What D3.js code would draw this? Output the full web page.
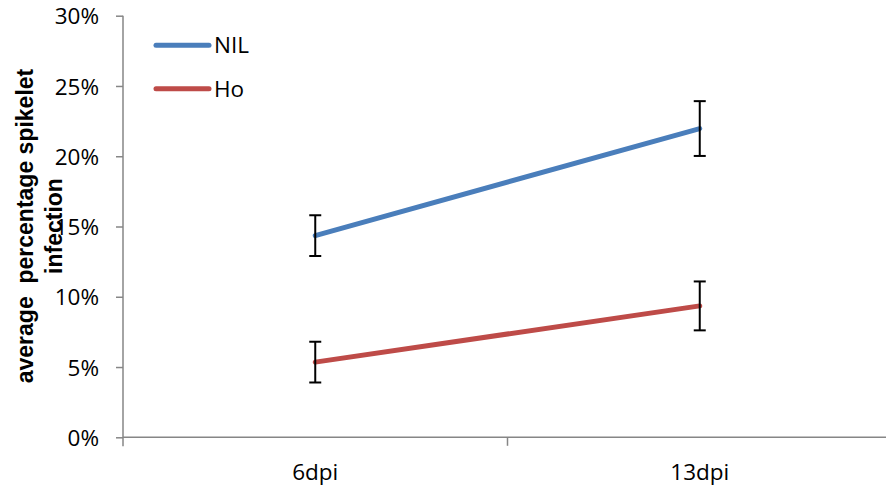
<!DOCTYPE html>
<html>
<head>
<meta charset="utf-8">
<script src="https://cdn.jsdelivr.net/npm/d3@7"></script>
<style>
  html, body { margin: 0; padding: 0; background: #fff; }
  svg { display: block; }
  .tick text { font-family: "Open Sans", sans-serif; font-size: 22.5px; fill: #000; }
</style>
</head>
<body>
<svg id="chart" width="886" height="489"></svg>
<script>
// Infection time points
const categories = ["6dpi", "13dpi"];

// Mean spikelet infection (fraction) and standard error per line
const nilValues = [0.1435, 0.2197];
const nilErrors = [0.0145, 0.0195];
const hoValues = [0.0535, 0.0935];
const hoErrors = [0.0145, 0.0174];

const seriesNames = ["NIL", "Ho"];
const seriesColors = ["#4a7ebb", "#be4b48"];

const yTicks = [0, 0.05, 0.10, 0.15, 0.20, 0.25, 0.30];

const series = [
  { name: seriesNames[0], color: seriesColors[0], values: nilValues, errors: nilErrors },
  { name: seriesNames[1], color: seriesColors[1], values: hoValues, errors: hoErrors }
];

const svg = d3.select("#chart");
const plot = { left: 123, right: 892, top: 15.7, bottom: 437.3 };

const x = d3.scaleBand().domain(categories).range([plot.left, plot.right]);
const y = d3.scaleLinear().domain([0, 0.30]).range([plot.bottom, plot.top]);
const cx = d => x(d) + x.bandwidth() / 2;

const axisColor = "#868686";

// Y axis
const yAxis = svg.append("g")
  .attr("transform", `translate(${plot.left},0)`)
  .call(d3.axisLeft(y).tickValues(yTicks).tickFormat(d3.format(".0%"))
    .tickSize(7).tickPadding(17).tickSizeOuter(0));
yAxis.select(".domain").attr("stroke", axisColor).attr("stroke-width", 1.5)
  .attr("d", `M0,${plot.top}V${plot.bottom + 9}`);
yAxis.selectAll(".tick line").attr("stroke", axisColor).attr("stroke-width", 1.5);
yAxis.selectAll(".tick text").attr("dy", "0.36em");

// X axis: ticks sit on category boundaries
const xAxis = svg.append("g").attr("transform", `translate(0,${plot.bottom})`);
xAxis.append("line")
  .attr("x1", plot.left).attr("x2", plot.right)
  .attr("stroke", axisColor).attr("stroke-width", 1.5);
const boundaries = [x(categories[1])];
xAxis.selectAll(".btick").data(boundaries).join("line")
  .attr("class", "btick")
  .attr("x1", d => d).attr("x2", d => d)
  .attr("y1", 0).attr("y2", 8.5)
  .attr("stroke", axisColor).attr("stroke-width", 1.5);
xAxis.selectAll(".xlabel").data(categories).join("text")
  .attr("class", "xlabel")
  .attr("x", d => cx(d)).attr("y", 43)
  .attr("text-anchor", "middle")
  .style("font-family", "'Open Sans', sans-serif")
  .style("font-size", "22.5px")
  .text(d => d);

// Y axis title (two lines, rotated)
const title = svg.append("text")
  .attr("transform", "translate(33,226) rotate(-90)")
  .attr("text-anchor", "middle")
  .style("font-family", "'Liberation Sans', Arial, sans-serif")
  .style("font-weight", "bold")
  .style("font-size", "23px")
  .style("white-space", "pre");
title.append("tspan").attr("x", 0).attr("y", 0).text("average  percentage spikelet");
title.append("tspan").attr("x", 0).attr("y", 29).text("infection");

// Lines
const line = d3.line().x((d, i) => cx(categories[i])).y(d => y(d));
svg.selectAll(".series").data(series).join("path")
  .attr("class", "series")
  .attr("d", s => line(s.values))
  .attr("fill", "none")
  .attr("stroke", s => s.color)
  .attr("stroke-width", 5)
  .attr("stroke-linecap", "round");

// Error bars
const capHalf = 6;
series.forEach(s => {
  const g = svg.append("g").attr("stroke", "#000").attr("stroke-width", 2);
  s.values.forEach((v, i) => {
    const px = cx(categories[i]);
    const hi = y(v + s.errors[i]), lo = y(v - s.errors[i]);
    g.append("line").attr("x1", px).attr("x2", px).attr("y1", hi).attr("y2", lo);
    g.append("line").attr("x1", px - capHalf).attr("x2", px + capHalf).attr("y1", hi).attr("y2", hi);
    g.append("line").attr("x1", px - capHalf).attr("x2", px + capHalf).attr("y1", lo).attr("y2", lo);
  });
});

// Legend
const legend = svg.append("g");
series.forEach((s, i) => {
  const ly = 45.3 + i * 43.4;
  legend.append("line")
    .attr("x1", 156).attr("x2", 209).attr("y1", ly).attr("y2", ly)
    .attr("stroke", s.color).attr("stroke-width", 5).attr("stroke-linecap", "round");
  legend.append("text")
    .attr("x", 214).attr("y", ly + 8)
    .style("font-family", "'Open Sans', sans-serif")
    .style("font-size", "22.5px")
    .text(s.name);
});
</script>
</body>
</html>
